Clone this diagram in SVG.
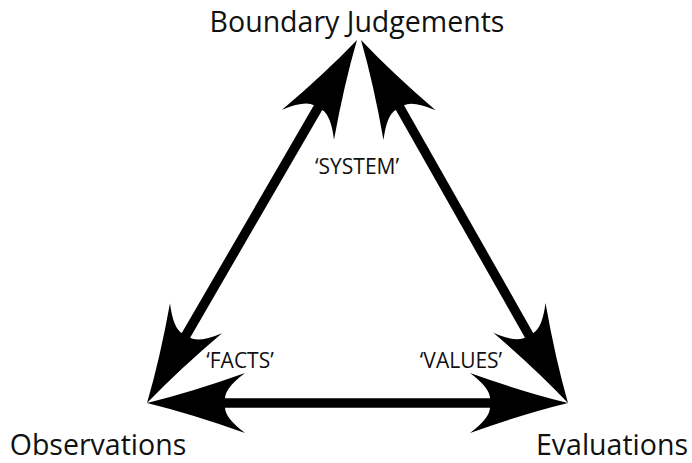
<svg xmlns="http://www.w3.org/2000/svg" width="692" height="463" viewBox="0 0 692 463">
<style>
.big{font-family:"Open Sans","Liberation Sans",sans-serif;font-size:28.5px;fill:#111;}
.small{font-family:"Open Sans","Liberation Sans",sans-serif;font-size:21px;fill:#111;}
.shaft{stroke:#000;stroke-width:9.5;fill:none;}
</style>
<defs>
<path id="head" d="M0,0 Q-45,-11 -98,-30 Q-78,-15 -78,-4.5 L-78,4.5 Q-78,15 -98,30 Q-45,11 0,0 Z" fill="#000"/>
</defs>
<rect width="692" height="463" fill="#fff"/>
<g id="connectors">
<line class="shaft" x1="215" y1="403" x2="500" y2="403"/>
<use href="#head" transform="translate(147,403) rotate(180)"/>
<use href="#head" transform="translate(568,403)"/>
<line class="shaft" x1="319" y1="106" x2="185" y2="337"/>
<use href="#head" transform="translate(357,40) rotate(-60)"/>
<use href="#head" transform="translate(147,403) rotate(120)"/>
<line class="shaft" x1="399" y1="106" x2="530" y2="337"/>
<use href="#head" transform="translate(361,40) rotate(-119.7)"/>
<use href="#head" transform="translate(568,403) rotate(60.3)"/>
</g>
<g id="node-boundary"><text class="big" x="357" y="32" text-anchor="middle">Boundary Judgements</text></g>
<g id="node-observations"><text class="big" x="98" y="455" text-anchor="middle">Observations</text></g>
<g id="node-evaluations"><text class="big" x="612" y="455" text-anchor="middle">Evaluations</text></g>
<g id="label-system"><text class="small" x="357" y="174" text-anchor="middle">‘SYSTEM’</text></g>
<g id="label-facts"><text class="small" x="240" y="368" text-anchor="middle">‘FACTS’</text></g>
<g id="label-values"><text class="small" x="461" y="368" text-anchor="middle">‘VALUES’</text></g>
</svg>
